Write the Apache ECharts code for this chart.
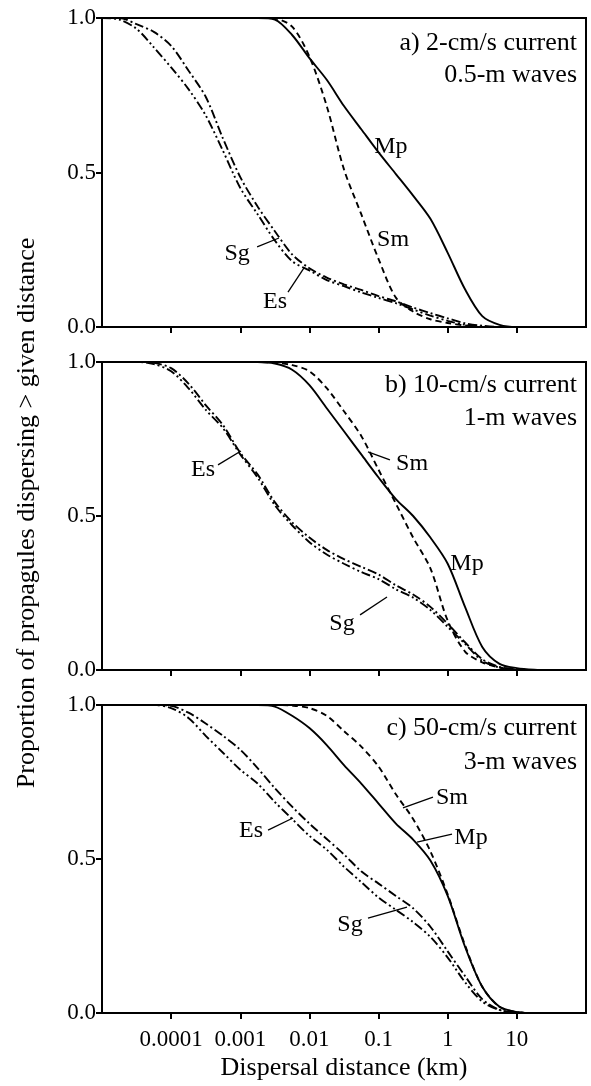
<!DOCTYPE html>
<html>
<head>
<meta charset="utf-8">
<script src="https://cdn.jsdelivr.net/npm/echarts@6/dist/echarts.min.js"></script>
<style>
  html, body { margin: 0; padding: 0; background: #fff; }
  #chart { width: 591px; height: 1086px; }
</style>
</head>
<body>
<div id="chart"></div>
<script>
// dispersal distance (km), quarter-decade steps
var distances = [0.00001, 0.0000178, 0.0000316, 0.0000562, 0.0001, 0.000178, 0.000316, 0.000562,
  0.001, 0.00178, 0.00316, 0.00562, 0.01, 0.0178, 0.0316, 0.0562, 0.1, 0.178, 0.316, 0.562,
  1, 1.78, 3.16, 5.62, 10, 17.8, 31.6, 56.2, 100];

var tickValues = [0.0001, 0.001, 0.01, 0.1, 1, 10];
var tickLabels = ['0.0001', '0.001', '0.01', '0.1', '1', '10'];

// a) 2-cm/s current, 0.5-m waves
var mpA = [1, 1, 1, 1, 1, 1, 1, 1, 1, 1, 0.995, 0.945, 0.87, 0.80, 0.715, 0.64, 0.565, 0.495, 0.425, 0.35, 0.24, 0.122, 0.035, 0.007, 0, 0, 0, 0, 0];
var smA = [1, 1, 1, 1, 1, 1, 1, 1, 1, 1, 0.998, 0.972, 0.875, 0.715, 0.51, 0.365, 0.22, 0.095, 0.05, 0.025, 0.013, 0.005, 0, 0, 0, 0, 0, 0, 0];
var sgA = [1, 1, 0.98, 0.955, 0.91, 0.83, 0.745, 0.61, 0.485, 0.39, 0.31, 0.235, 0.19, 0.16, 0.138, 0.12, 0.10, 0.083, 0.063, 0.045, 0.028, 0.012, 0.004, 0, 0, 0, 0, 0, 0];
var esA = [1, 0.995, 0.965, 0.905, 0.84, 0.77, 0.685, 0.57, 0.45, 0.365, 0.28, 0.213, 0.183, 0.152, 0.132, 0.112, 0.094, 0.077, 0.057, 0.037, 0.02, 0.007, 0.001, 0, 0, 0, 0, 0, 0];

// b) 10-cm/s current, 1-m waves
var mpB = [1, 1, 1, 1, 1, 1, 1, 1, 1, 1, 0.995, 0.975, 0.925, 0.85, 0.775, 0.70, 0.625, 0.555, 0.50, 0.43, 0.345, 0.205, 0.075, 0.02, 0.006, 0.001, 0, 0, 0];
var smB = [1, 1, 1, 1, 1, 1, 1, 1, 1, 1, 0.998, 0.99, 0.97, 0.915, 0.84, 0.76, 0.65, 0.54, 0.43, 0.33, 0.16, 0.06, 0.025, 0.008, 0, 0, 0, 0, 0];
var sgB = [1, 1, 1, 0.997, 0.98, 0.93, 0.86, 0.795, 0.705, 0.635, 0.545, 0.48, 0.43, 0.39, 0.36, 0.335, 0.31, 0.275, 0.245, 0.205, 0.15, 0.09, 0.035, 0.01, 0.002, 0, 0, 0, 0];
var esB = [1, 1, 1, 0.993, 0.97, 0.915, 0.845, 0.785, 0.70, 0.625, 0.535, 0.47, 0.415, 0.375, 0.345, 0.318, 0.295, 0.262, 0.235, 0.195, 0.14, 0.085, 0.03, 0.008, 0.002, 0, 0, 0, 0];

// c) 50-cm/s current, 3-m waves
var mpC = [1, 1, 1, 1, 1, 1, 1, 1, 1, 1, 0.995, 0.965, 0.925, 0.87, 0.805, 0.745, 0.68, 0.615, 0.563, 0.495, 0.38, 0.215, 0.085, 0.02, 0.003, 0, 0, 0, 0];
var smC = [1, 1, 1, 1, 1, 1, 1, 1, 1, 1, 1, 0.998, 0.99, 0.965, 0.915, 0.865, 0.80, 0.71, 0.63, 0.525, 0.385, 0.22, 0.085, 0.02, 0.003, 0, 0, 0, 0];
var sgC = [1, 1, 1, 1, 0.997, 0.975, 0.94, 0.90, 0.855, 0.795, 0.73, 0.67, 0.615, 0.565, 0.515, 0.46, 0.42, 0.38, 0.34, 0.28, 0.20, 0.12, 0.045, 0.01, 0.002, 0, 0, 0, 0];
var esC = [1, 1, 1, 1, 0.99, 0.958, 0.90, 0.845, 0.79, 0.745, 0.685, 0.63, 0.575, 0.53, 0.475, 0.425, 0.375, 0.335, 0.295, 0.247, 0.18, 0.10, 0.037, 0.01, 0.002, 0, 0, 0, 0];

var panelTitles = [
  ['a) 2-cm/s current', '0.5-m waves'],
  ['b) 10-cm/s current', '1-m waves'],
  ['c) 50-cm/s current', '3-m waves']
];

// species labels [text, distance, proportion] and leader lines, in data units
var labelsA = [['Mp', 0.151, 0.583], ['Sm', 0.162, 0.282], ['Sg', 0.000898, 0.236], ['Es', 0.00318, 0.081]];
var pointersA = [[[0.00175, 0.259], [0.00363, 0.288]], [[0.0049, 0.113], [0.00835, 0.191]]];
var labelsB = [['Es', 0.000289, 0.649], ['Sm', 0.305, 0.669], ['Mp', 1.90, 0.344], ['Sg', 0.0296, 0.149]];
var pointersB = [[[0.000476, 0.666], [0.001023, 0.711]], [[0.146, 0.682], [0.0703, 0.708]], [[0.054, 0.179], [0.1324, 0.237]]];
var labelsC = [['Es', 0.00143, 0.591], ['Sm', 1.15, 0.698], ['Mp', 2.17, 0.568], ['Sg', 0.0386, 0.286]];
var pointersC = [[[0.00252, 0.594], [0.00578, 0.633]], [[0.612, 0.701], [0.2254, 0.666]], [[1.154, 0.581], [0.36, 0.555]], [[0.0703, 0.308], [0.2576, 0.344]]];

var FONT = '"Liberation Serif", "Times New Roman", serif';

var panels = [
  { top: 18, height: 309, mp: mpA, sm: smA, sg: sgA, es: esA, labels: labelsA, pointers: pointersA, titleY: [43, 75] },
  { top: 362, height: 308, mp: mpB, sm: smB, sg: sgB, es: esB, labels: labelsB, pointers: pointersB, titleY: [385, 418] },
  { top: 705, height: 308, mp: mpC, sm: smC, sg: sgC, es: esC, labels: labelsC, pointers: pointersC, titleY: [728, 762] }
];

function pairs(ys) {
  return distances.map(function (d, i) { return [d, ys[i]]; });
}

function fmtTick(v) {
  for (var i = 0; i < tickValues.length; i++) {
    if (Math.abs(Math.log10(tickValues[i]) - Math.log10(v)) < 1e-6) return tickLabels[i];
  }
  return '';
}

var grid = [], xAxis = [], yAxis = [], series = [], graphic = [];

panels.forEach(function (p, k) {
  grid.push({ left: 102, right: 5, top: p.top, height: p.height, show: true,
    borderColor: '#000', borderWidth: 2, backgroundColor: 'transparent' });

  xAxis.push({
    type: 'log', logBase: 10, min: 0.00001, max: 100, gridIndex: k,
    axisLine: { show: false },
    splitLine: { show: false },
    axisTick: { show: true, inside: false, length: 6, customValues: tickValues,
      lineStyle: { color: '#000', width: 2 } },
    axisLabel: { show: k === 2, customValues: tickValues, formatter: fmtTick,
      color: '#000', fontSize: 23, fontFamily: FONT, margin: 15 }
  });

  yAxis.push({
    type: 'value', min: 0, max: 1, interval: 0.5, gridIndex: k,
    axisLine: { show: false },
    splitLine: { show: false },
    axisTick: { show: true, inside: false, length: 6, lineStyle: { color: '#000', width: 2 } },
    axisLabel: { formatter: function (v) { return v.toFixed(1); },
      color: '#000', fontSize: 23, fontFamily: FONT, margin: 6 }
  });

  var styles = [
    ['Mp', p.mp, 'solid'],
    ['Sm', p.sm, [6, 4]],
    ['Sg', p.sg, [9, 3, 2, 3]],
    ['Es', p.es, [9, 3, 2, 3, 2, 3]]
  ];
  styles.forEach(function (s) {
    series.push({
      name: s[0], type: 'line', xAxisIndex: k, yAxisIndex: k,
      data: pairs(s[1]), showSymbol: false, smooth: 0.3, clip: true,
      lineStyle: { color: '#000', width: 1.9, type: s[2] },
      silent: true, z: 3
    });
  });

  series.push({
    type: 'scatter', xAxisIndex: k, yAxisIndex: k, symbolSize: 1,
    itemStyle: { color: 'rgba(0,0,0,0)', opacity: 1 }, silent: true, z: 4,
    data: p.labels.map(function (l) { return [l[1], l[2], l[0]]; }),
    label: { show: true, position: 'inside', formatter: function (q) { return q.data[2]; },
      color: '#000', textBorderWidth: 0, opacity: 1,
      fontSize: 24, fontFamily: FONT },
    markLine: {
      silent: true, symbol: ['none', 'none'], label: { show: false },
      lineStyle: { color: '#000', width: 1.3, type: 'solid', opacity: 1 },
      data: p.pointers.map(function (ln) { return [{ coord: ln[0] }, { coord: ln[1] }]; })
    }
  });

  panelTitles[k].forEach(function (t, j) {
    graphic.push({ type: 'text', x: 577, y: p.titleY[j], silent: true,
      style: { text: t, align: 'right', verticalAlign: 'middle', fill: '#000',
        font: '26px ' + FONT } });
  });
});

graphic.push({ type: 'text', x: 27, y: 513, rotation: Math.PI / 2, silent: true,
  style: { text: 'Proportion of propagules dispersing > given distance', align: 'center',
    verticalAlign: 'middle', fill: '#000', font: '26px ' + FONT } });
graphic.push({ type: 'text', x: 344, y: 1068, silent: true,
  style: { text: 'Dispersal distance (km)', align: 'center', verticalAlign: 'middle',
    fill: '#000', font: '26px ' + FONT } });

var chart = echarts.init(document.getElementById('chart'), null, { renderer: 'canvas' });
chart.setOption({
  animation: false,
  backgroundColor: '#fff',
  grid: grid,
  xAxis: xAxis,
  yAxis: yAxis,
  series: series,
  graphic: graphic
});
</script>
</body>
</html>
